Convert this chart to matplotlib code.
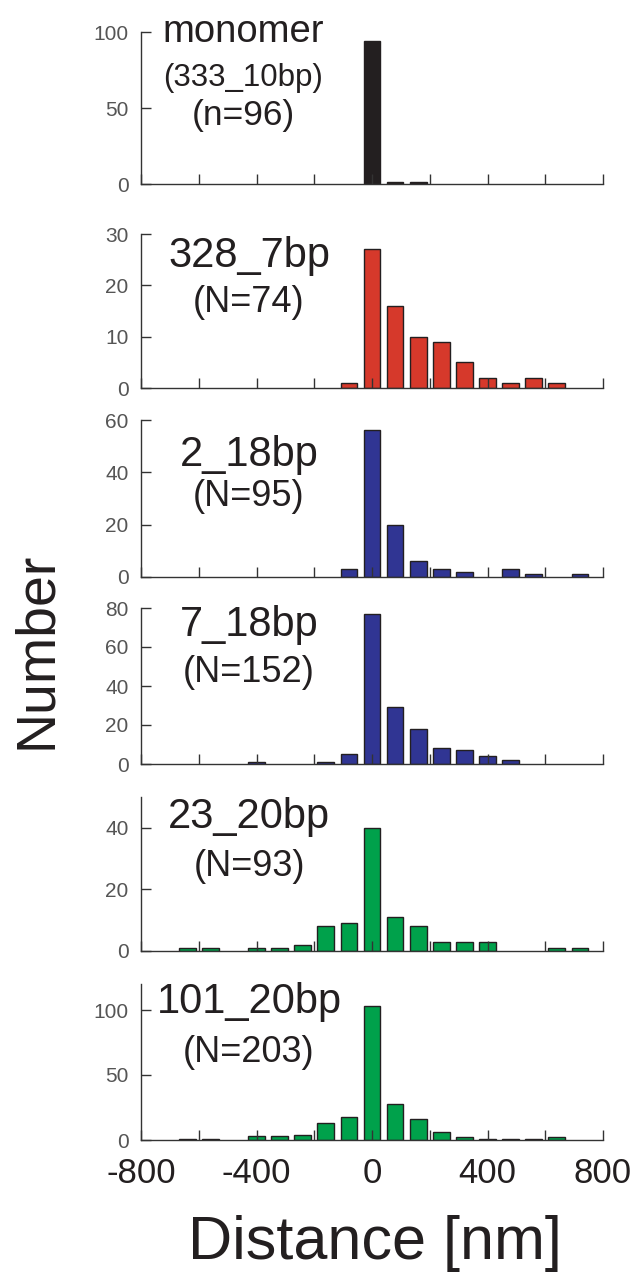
import matplotlib
matplotlib.use("Agg")
import matplotlib.pyplot as plt

plt.rcParams['font.family'] = ['Liberation Sans', 'DejaVu Sans']

# bin centres (nm)
bins = [-720, -640, -560, -480, -400, -320, -240, -160, -80, 0, 80, 160, 240, 320, 400, 480, 560, 640, 720]

names = ["monomer", "328_7bp", "2_18bp", "7_18bp", "23_20bp", "101_20bp"]
subtitles = ["(333_10bp)", None, None, None, None, None]
counts_text = ["(n=96)", "(N=74)", "(N=95)", "(N=152)", "(N=93)", "(N=203)"]

monomer  = [0, 0, 0, 0, 0, 0, 0, 0, 0, 94, 1, 1, 0, 0, 0, 0, 0, 0, 0]
s328_7   = [0, 0, 0, 0, 0, 0, 0, 0, 1, 27, 16, 10, 9, 5, 2, 1, 2, 1, 0]
s2_18    = [0, 0, 0, 0, 0, 0, 0, 0, 3, 56, 20, 6, 3, 2, 0, 3, 1, 0, 1]
s7_18    = [0, 0, 0, 0, 1, 0, 0, 1, 5, 77, 29, 18, 8, 7, 4, 2, 0, 0, 0]
s23_20   = [0, 1, 1, 0, 1, 1, 2, 8, 9, 40, 11, 8, 3, 3, 3, 0, 0, 1, 1]
s101_20  = [0, 1, 1, 0, 3, 3, 4, 13, 18, 103, 28, 16, 6, 2, 1, 1, 1, 2, 0]
series = [monomer, s328_7, s2_18, s7_18, s23_20, s101_20]

colors = ["#231f20", "#d6392b", "#303593", "#303593", "#00a14b", "#00a14b"]
ylims = [100, 30, 60, 80, 50, 120]
yticks = [[0, 50, 100], [0, 10, 20, 30], [0, 20, 40, 60], [0, 20, 40, 60, 80], [0, 20, 40], [0, 50, 100]]
xticks = [-800, -600, -400, -200, 0, 200, 400, 600, 800]
xticklabels = ["-800", "", "-400", "", "0", "", "400", "", "800"]

W, H = 636, 1274
fig = plt.figure(figsize=(W / 100, H / 100), dpi=100)

# axes pixel extents: (y of zero, y of top)
ax_px = [(184, 32), (388, 234), (577, 420), (764, 608), (951, 797), (1140, 984)]
x0, x1 = 141, 603
# label positions (pixel centre y): name, subtitle, count
label_y = [(32, 78, 116), (256, None, 303), (455, None, 497), (625, None, 672), (817, None, 867), (1002, None, 1052)]
label_x = [243, 249, 249, 249, 249, 249]

ink = "#231f20"
for i in range(6):
    yb, yt = ax_px[i]
    ax = fig.add_axes([x0 / W, 1 - yb / H, (x1 - x0) / W, (yb - yt) / H])
    xs = [b for b, c in zip(bins, series[i]) if c > 0]
    ys = [c for c in series[i] if c > 0]
    ax.bar(xs, ys, width=58, color=colors[i], edgecolor=ink, linewidth=1.0, zorder=1)
    ax.set_xlim(-800, 800)
    ax.set_ylim(0, ylims[i])
    ax.set_yticks(yticks[i])
    ax.set_xticks(xticks)
    for s in ["top", "right"]:
        ax.spines[s].set_visible(False)
    for s in ["left", "bottom"]:
        ax.spines[s].set_linewidth(1.0)
        ax.spines[s].set_color("#333333")
    ax.tick_params(axis="both", direction="in", length=7.5, width=1.0, color="#333333")
    ax.tick_params(axis="y", labelsize=15, labelcolor="#555555", pad=9)
    if i == 5:
        ax.set_xticklabels(xticklabels)
        ax.tick_params(axis="x", labelsize=25, labelcolor=ink, pad=12)
    else:
        ax.set_xticklabels([])
    ax.patch.set_alpha(0)
    ny, sy, cy = label_y[i]
    lx = label_x[i] / W
    name_size = 27.5 if i == 0 else 30
    fig.text(lx, 1 - ny / H, names[i], ha="center", va="center", fontsize=name_size, color=ink)
    if subtitles[i]:
        fig.text(lx, 1 - sy / H, subtitles[i], ha="center", va="center", fontsize=22.5, color=ink)
    fig.text(lx, 1 - cy / H, counts_text[i], ha="center", va="center", fontsize=25.5 if i == 0 else 26, color=ink)

fig.text(37 / W, 1 - 650 / H, "Number", rotation=90, ha="center", va="center", fontsize=40, color=ink)
fig.text(375 / W, 1 - 1243 / H, "Distance [nm]", ha="center", va="center", fontsize=44, color=ink)

fig.savefig("out.png", dpi=100, facecolor="white")
